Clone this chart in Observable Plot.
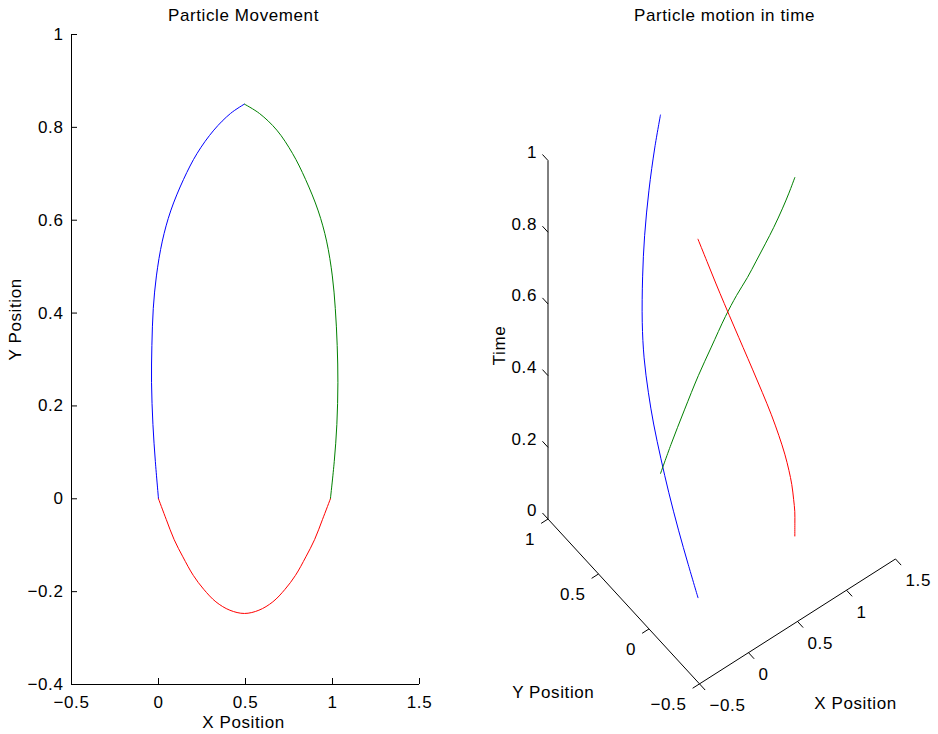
<!DOCTYPE html>
<html><head><meta charset="utf-8">
<script src="https://cdn.jsdelivr.net/npm/d3@7"></script>
<script src="https://cdn.jsdelivr.net/npm/@observablehq/plot@0.6"></script>
<style>
html,body{margin:0;padding:0;background:#fff;}
#fig{position:relative;width:938px;height:734px;overflow:hidden;background:#fff;}
#fig svg{position:absolute;top:0;}
</style></head><body><div id="fig"></div>
<script>
// ---- data ----
const blueT = [0, 0.072, 0.143, 0.223, 0.293, 0.364, 0.428, 0.495, 0.566, 0.659, 0.743, 0.838, 0.928, 1];
const blueX = [0, -0.018, -0.032, -0.040, -0.038, -0.030, -0.012, 0.022, 0.070, 0.144, 0.222, 0.318, 0.414, 0.493];
const blueY = [0, 0.08, 0.16, 0.25, 0.33, 0.41, 0.48, 0.555, 0.62, 0.688, 0.744, 0.794, 0.830, 0.850];

const greenT = [0, 0.072, 0.162, 0.257, 0.341, 0.434, 0.505, 0.572, 0.636, 0.707, 0.777, 0.857, 0.928, 1];
const greenX = [0.494, 0.580, 0.680, 0.770, 0.845, 0.918, 0.966, 0.999, 1.016, 1.027, 1.031, 1.025, 1.010, 0.988];
const greenY = [0.850, 0.830, 0.794, 0.744, 0.688, 0.620, 0.555, 0.48, 0.41, 0.33, 0.25, 0.16, 0.08, 0];

const redT = [0, 0.056, 0.111, 0.165, 0.229, 0.288, 0.354, 0.426, 0.5, 0.574, 0.646, 0.712, 0.771, 0.834, 0.889, 0.944, 1];
const redX = [0.988, 0.942, 0.897, 0.847, 0.787, 0.727, 0.657, 0.577, 0.494, 0.41, 0.33, 0.26, 0.2, 0.14, 0.09, 0.045, 0];
const redY = [0, -0.045, -0.088, -0.125, -0.165, -0.195, -0.222, -0.24, -0.247, -0.24, -0.222, -0.195, -0.165, -0.125, -0.088, -0.045, 0];

const xTicks = [-0.5, 0, 0.5, 1, 1.5];
const yTicks = [-0.4, -0.2, 0, 0.2, 0.4, 0.6, 0.8, 1];
const x3Ticks = [-0.5, 0, 0.5, 1, 1.5];
const y3Ticks = [-0.5, 0, 0.5, 1];
const tTicks = [0, 0.2, 0.4, 0.6, 0.8, 1];

const titles = ["Particle Movement", "Particle motion in time"];
const labels = {x: "X Position", y: "Y Position", t: "Time"};

const colors = {blue: "#0000ff", green: "#008000", red: "#ff0000"};

// ---- build tables ----
const rows = (T, X, Y) => T.map((t, i) => ({t, x: X[i], y: Y[i]}));
const series = [
  {data: rows(blueT, blueX, blueY), color: colors.blue},
  {data: rows(greenT, greenX, greenY), color: colors.green},
  {data: rows(redT, redX, redY), color: colors.red}
];

const font = {fontFamily: "'Liberation Sans', Arial, Helvetica, sans-serif", fontSize: "17px", letterSpacing: "0.6px", background: "white", color: "black", overflow: "visible"};
const fmt = d => d < 0 ? "\u2212" + String(-d) : String(d);

// ---- left: 2D ----
const left = Plot.plot({
  width: 470, height: 734,
  marginLeft: 71, marginRight: 51, marginTop: 34, marginBottom: 50,
  style: font,
  x: {domain: [xTicks[0], xTicks[xTicks.length - 1]], label: null},
  y: {domain: [yTicks[0], yTicks[yTicks.length - 1]], label: null},
  marks: [
    Plot.ruleX([xTicks[0]], {stroke: "black"}),
    Plot.ruleY([yTicks[0]], {stroke: "black"}),
    Plot.axisX(xTicks, {tickSize: -6, tickPadding: 17.5, tickFormat: fmt, label: null}),
    Plot.axisY(yTicks, {tickSize: -6, tickPadding: 14, tickFormat: fmt, label: null}),
    ...series.map(s => Plot.line(s.data, {x: "x", y: "y", stroke: s.color, strokeWidth: 1, curve: "catmull-rom"})),
    Plot.text([titles[0]], {frameAnchor: "top", dx: -2, dy: -19, lineAnchor: "middle"}),
    Plot.text([labels.x], {frameAnchor: "bottom", dx: -2, dy: 38, lineAnchor: "middle"}),
    Plot.text([labels.y], {frameAnchor: "left", dx: -56, dy: 1, rotate: -90, lineAnchor: "middle"})
  ]
});
left.style.left = "0px";

// ---- right: 3D (orthographic view projection) ----
const ex = [0.98, 0.6245], ey = [-1.01, 1.099], et = 3.585;
const U = (x, y, t) => ex[0] * x + ey[0] * y;
const V = (x, y, t) => ex[1] * x + ey[1] * y + et * t;

const x0 = x3Ticks[0], x1 = x3Ticks[x3Ticks.length - 1];
const y0 = y3Ticks[0], y1 = y3Ticks[y3Ticks.length - 1];
const t0 = tTicks[0], t1 = tTicks[tTicks.length - 1];

const axes3 = [
  {a: [x0, y1, t0], b: [x0, y1, t1]},
  {a: [x0, y1, t0], b: [x0, y0, t0]},
  {a: [x0, y0, t0], b: [x1, y0, t0]}
];
const tickSegs = [
  ...tTicks.map(t => ({a: [x0, y1, t], b: [x0, y1 + 0.055, t]})),
  ...y3Ticks.map(y => ({a: [x0, y, t0], b: [x0 - 0.07, y, t0]})),
  ...x3Ticks.map(x => ({a: [x, y0, t0], b: [x, y0 - 0.056, t0]}))
];
const linkOpts = {
  x1: d => U(...d.a), y1: d => V(...d.a),
  x2: d => U(...d.b), y2: d => V(...d.b),
  stroke: "black", strokeWidth: 1
};

const right = Plot.plot({
  width: 468, height: 734,
  margin: 0,
  style: font,
  x: {domain: [-2.275, 2.405], range: [0, 468], axis: null},
  y: {domain: [-1.368, 5.972], range: [734, 0], axis: null},
  marks: [
    Plot.link(axes3, linkOpts),
    Plot.link(tickSegs, linkOpts),
    Plot.text(tTicks, {x: t => U(x0, y1, t), y: t => V(x0, y1, t), text: fmt, textAnchor: "end", lineAnchor: "middle", dx: -11, dy: -8}),
    Plot.text(y3Ticks, {x: y => U(x0, y, t0), y: y => V(x0, y, t0), text: fmt, textAnchor: "end", lineAnchor: "middle", dx: -13, dy: 21}),
    Plot.text(x3Ticks, {x: x => U(x, y0, t0), y: x => V(x, y0, t0), text: fmt, textAnchor: "start", lineAnchor: "middle", dx: 10, dy: 22}),
    ...series.map(s => Plot.line(s.data, {x: d => U(d.x, d.y, d.t), y: d => V(d.x, d.y, d.t), stroke: s.color, strokeWidth: 1, curve: "catmull-rom"})),
    Plot.text([labels.t], {x: () => U(x0, y1, 0.5), y: () => V(x0, y1, 0.5), rotate: -90, lineAnchor: "middle", dx: -48.5, dy: 5.7}),
    Plot.text([labels.y], {x: () => U(x0, 0.25, t0), y: () => V(x0, 0.25, t0), lineAnchor: "middle", dx: -70.5, dy: 91.3}),
    Plot.text([labels.x], {x: () => U(0.5, y0, t0), y: () => V(0.5, y0, t0), lineAnchor: "middle", dx: 58, dy: 82}),
    Plot.text([titles[1]], {frameAnchor: "top", dx: 20, dy: 15, lineAnchor: "middle"})
  ]
});
right.style.left = "470px";

const fig = document.getElementById("fig");
fig.appendChild(left);
fig.appendChild(right);
</script>
</body></html>
